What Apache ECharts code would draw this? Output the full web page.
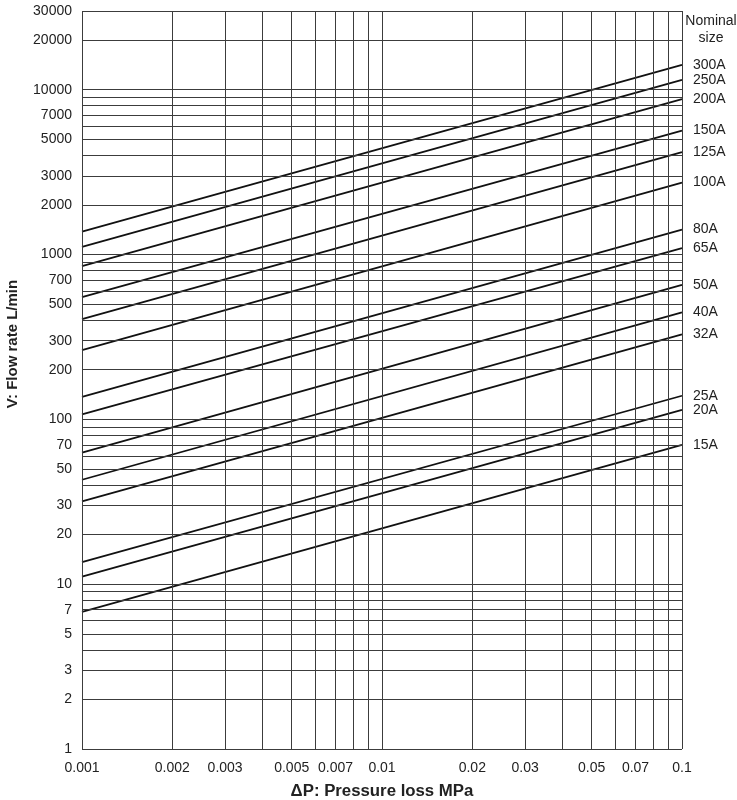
<!DOCTYPE html>
<html>
<head>
<meta charset="utf-8">
<script src="https://cdn.jsdelivr.net/npm/echarts@6/dist/echarts.min.js"></script>
<style>
html,body{margin:0;padding:0;background:#fff;}
#chart{width:737px;height:800px;}
</style>
</head>
<body>
<div id="chart"></div>
<script>
// Pressure loss endpoints (MPa)
var xEnds = [0.001, 0.1];
// Nominal sizes and flow rate (L/min) at 0.001 MPa and 0.1 MPa
var sizes = ['300A','250A','200A','150A','125A','100A','80A','65A','50A','40A','32A','25A','20A','15A'];
var flowAtLow  = [1377, 1112, 850, 551, 405, 263, 137, 107, 62.8, 43, 31.8, 13.6, 11.1, 6.8];
var flowAtHigh = [14130, 11460, 8750, 5650, 4180, 2730, 1416, 1092, 654, 446, 328, 139, 114, 70];

// Tick labels
var xLabels = [0.001, 0.002, 0.003, 0.005, 0.007, 0.01, 0.02, 0.03, 0.05, 0.07, 0.1];
var yLabels = [1, 2, 3, 5, 7, 10, 20, 30, 50, 70, 100, 200, 300, 500, 700, 1000, 2000, 3000, 5000, 7000, 10000, 20000, 30000];

// Grid lines
var xGrid = [0.001,0.002,0.003,0.004,0.005,0.006,0.007,0.008,0.009,0.01,0.02,0.03,0.04,0.05,0.06,0.07,0.08,0.09,0.1];
var yGrid = [1,2,3,4,5,6,7,8,9,10,20,30,40,50,60,70,80,90,100,200,300,400,500,600,700,800,900,1000,2000,3000,4000,5000,6000,7000,8000,9000,10000,20000,30000];

var FONT = '"Liberation Sans", Arial, Helvetica, sans-serif';

function fmt(v){ return String(v); }

var gridLines = [];
xGrid.forEach(function(v){
  gridLines.push({xAxis: v, label: {show: xLabels.indexOf(v) >= 0, position: 'start', formatter: fmt(v), distance: 12}});
});
yGrid.forEach(function(v){
  gridLines.push({yAxis: v, label: {show: yLabels.indexOf(v) >= 0, position: 'start', formatter: fmt(v), distance: 10}});
});

var series = [{
  type: 'line',
  name: 'grid',
  data: [],
  silent: true,
  z: 1,
  markLine: {
    silent: true,
    symbol: 'none',
    precision: 8,
    animation: false,
    lineStyle: {color: '#3c3c3c', width: 1, type: 'solid'},
    label: {color: '#222', fontSize: 14, fontFamily: FONT},
    emphasis: {disabled: true},
    data: gridLines
  }
}];

sizes.forEach(function(name, i){
  series.push({
    type: 'line',
    name: name,
    z: 3,
    symbol: 'none',
    animation: false,
    silent: true,
    lineStyle: {color: '#111', width: 1.8},
    data: [[xEnds[0], flowAtLow[i]], [xEnds[1], flowAtHigh[i]]],
    endLabel: {
      show: true,
      formatter: '{a}',
      distance: 11,
      color: '#222',
      fontSize: 14,
      fontFamily: FONT
    }
  });
});

var chart = echarts.init(document.getElementById('chart'), null, {renderer: 'canvas'});
chart.setOption({
  backgroundColor: '#fff',
  animation: false,
  grid: {left: 82, right: 55, top: 11, bottom: 51, containLabel: false, outerBoundsMode: 'none'},
  xAxis: {
    type: 'log',
    logBase: 10,
    min: 0.001,
    max: 0.1,
    name: 'ΔP: Pressure loss MPa',
    nameLocation: 'middle',
    nameGap: 34,
    nameTextStyle: {fontWeight: 'bold', fontSize: 16.8, color: '#222', fontFamily: FONT},
    axisLine: {show: false},
    axisTick: {show: false},
    axisLabel: {show: false},
    splitLine: {show: false}
  },
  yAxis: {
    type: 'log',
    logBase: 10,
    min: 1,
    max: 30000,
    axisLine: {show: false},
    axisTick: {show: false},
    axisLabel: {show: false},
    splitLine: {show: false}
  },
  graphic: [
    {type: 'text', x: 12.5, y: 344, rotation: Math.PI/2, silent: true,
     style: {text: 'V: Flow rate L/min', font: 'bold 15px ' + FONT, fill: '#222', textAlign: 'center', textVerticalAlign: 'middle'}},
    {type: 'text', x: 711, y: 21, silent: true,
     style: {text: 'Nominal', font: '14px ' + FONT, fill: '#222', textAlign: 'center', textVerticalAlign: 'middle'}},
    {type: 'text', x: 711, y: 38, silent: true,
     style: {text: 'size', font: '14px ' + FONT, fill: '#222', textAlign: 'center', textVerticalAlign: 'middle'}}
  ],
  series: series
});
</script>
</body>
</html>
